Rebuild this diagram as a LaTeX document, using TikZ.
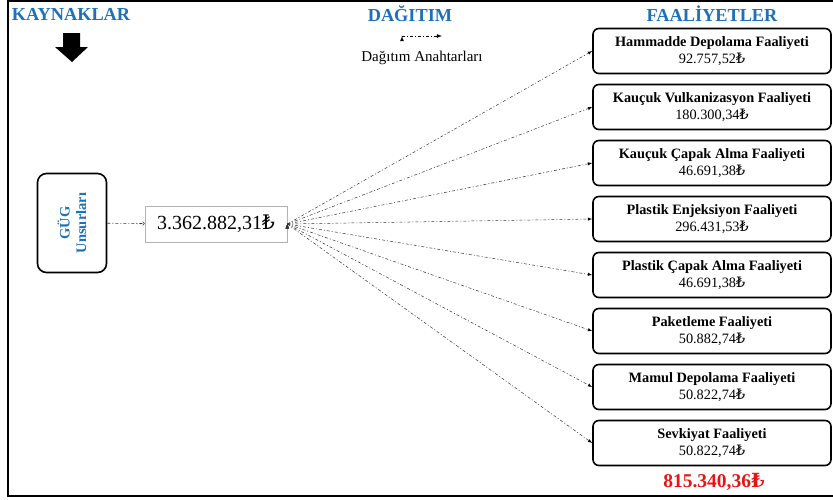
\documentclass[tikz,border=0pt]{standalone}
\usepackage{fontspec}
\setmainfont{Liberation Serif}
\newfontfamily\lirafont{DejaVu Serif}
\newcommand{\TL}{{\lirafont ₺}}
\usepackage{tikz}
\definecolor{baslik}{RGB}{30,112,184}
\definecolor{toplam}{RGB}{232,20,20}

\begin{document}
\begin{tikzpicture}[x=1pt,y=-1pt]
			\tikzstyle{faal} = [draw,line width=1.6pt,rounded corners=6pt,minimum width=238pt,minimum height=45pt,align=center,inner sep=1pt,font=\fontsize{14.3}{16.5}\selectfont]
			\tikzstyle{head} = [text=baslik,font=\fontsize{18.3}{21}\selectfont\bfseries]
			\tikzstyle{dagit} = [->,>=latex,line width=0.5pt,draw=black!80,dash pattern=on 3pt off 2pt on 1pt off 2pt]
			
			\useasboundingbox (0,0) rectangle (833,499);
			\draw[line width=1.6pt] (833,1) -- (8,1) -- (8,496) -- (833,496);
			
			\node[head] (kay) at (71,14) {KAYNAKLAR};
			\node[head] (dag) at (410,14) {DAĞITIM};
			\node[head] (faa) at (712,14) {FAALİYETLER};
			
			% kalin ok
			\fill (63,33) -- (80,33) -- (80,47) -- (88,47) -- (72,62) -- (55,47) -- (63,47) -- cycle;
			
			% anahtar
			\coordinate (l1) at (402,36);
			\coordinate (l2) at (442,36);
			\path[dagit,line width=0.8pt,draw=black] (l1) edge (l2);
			\node[font=\fontsize{15}{17}\selectfont] (anah) at (422,58) {Dağıtım Anahtarları};
			
			\node[draw,line width=1.6pt,rounded corners=9pt,minimum width=69pt,minimum height=99pt] (gug) at (72,223) {};
			\node[rotate=90,text=baslik,align=center,font=\fontsize{14.5}{16.5}\selectfont\bfseries] (gugt) at (gug) {GÜG\\Unsurları};
			
			\node[draw=black!30,line width=0.6pt,minimum width=142pt,minimum height=36pt,font=\fontsize{20}{24}\selectfont] (val) at (216,224) {3.362.882,31\TL};
			
			\node[faal] (f1) at (712,51) {\textbf{Hammadde Depolama Faaliyeti}\\92.757,52\TL};
			\node[faal] (f2) at (712,107) {\textbf{Kauçuk Vulkanizasyon Faaliyeti}\\180.300,34\TL};
			\node[faal] (f3) at (712,163) {\textbf{Kauçuk Çapak Alma Faaliyeti}\\46.691,38\TL};
			\node[faal] (f4) at (712,219) {\textbf{Plastik Enjeksiyon Faaliyeti}\\296.431,53\TL};
			\node[faal] (f5) at (712,275) {\textbf{Plastik Çapak Alma Faaliyeti}\\46.691,38\TL};
			\node[faal] (f6) at (712,331) {\textbf{Paketleme Faaliyeti}\\50.882,74\TL};
			\node[faal] (f7) at (712,387) {\textbf{Mamul Depolama Faaliyeti}\\50.822,74\TL};
			\node[faal] (f8) at (712,443) {\textbf{Sevkiyat Faaliyeti}\\50.822,74\TL};
			
			\node[text=toplam,font=\fontsize{19.5}{22}\selectfont\bfseries] (top) at (714,482) {815.340,36\TL};
			
			\path[dagit,>=to,line width=0.6pt] (gug) edge (val);
			\path[dagit] (val.east) edge (f1.west);
			\path[dagit] (val.east) edge (f2.west);
			\path[dagit] (val.east) edge (f3.west);
			\path[dagit] (val.east) edge (f4.west);
			\path[dagit] (val.east) edge (f5.west);
			\path[dagit] (val.east) edge (f6.west);
			\path[dagit] (val.east) edge (f7.west);
			\path[dagit] (val.east) edge (f8.west);
		\end{tikzpicture}
\end{document}
